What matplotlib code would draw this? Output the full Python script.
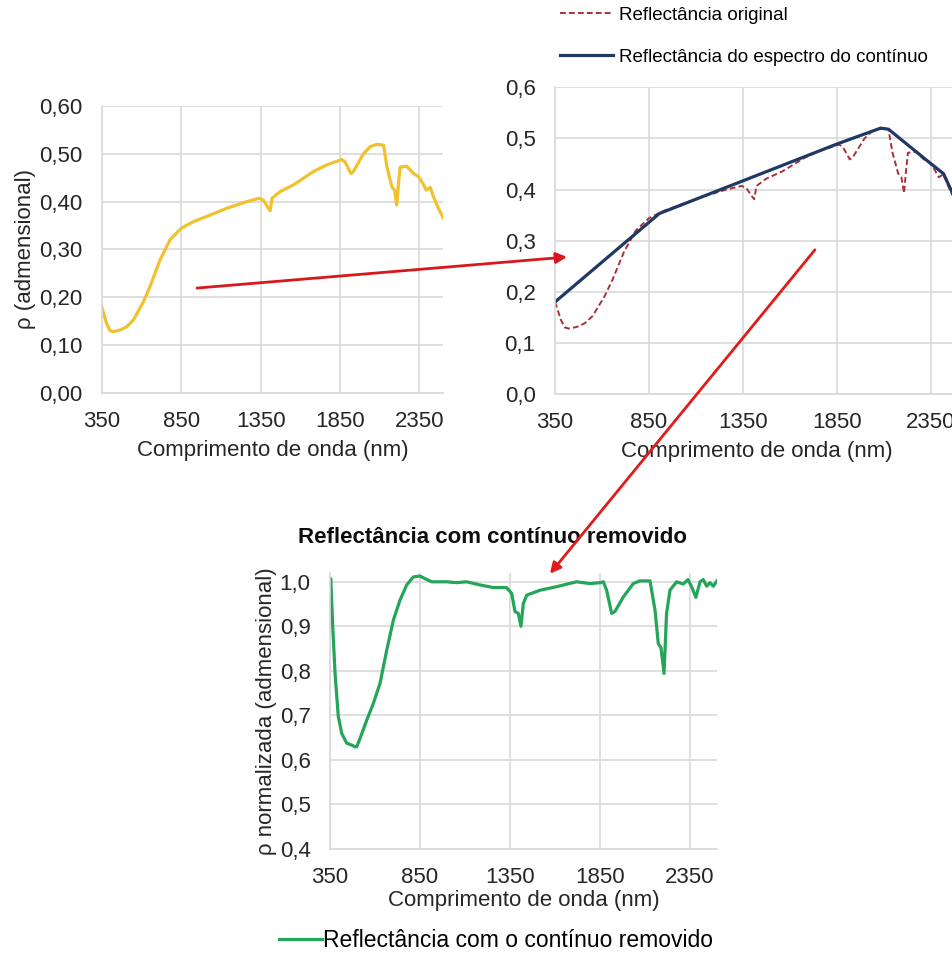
import matplotlib
matplotlib.use('Agg')
import matplotlib.pyplot as plt
from matplotlib.ticker import FuncFormatter
from matplotlib.patches import ConnectionPatch

plt.rcParams['font.family'] = ['Liberation Sans', 'DejaVu Sans']

wl = [350, 381, 402, 423, 465, 507, 549, 612, 654, 717, 780, 850, 927, 1032, 1137,
      1263, 1343, 1368, 1393, 1410, 1422, 1473, 1557, 1683, 1767, 1861, 1882, 1918,
      1934, 1997, 2040, 2082, 2124, 2145, 2176, 2193, 2207, 2218, 2228, 2270, 2312,
      2344, 2371, 2392, 2417, 2438, 2469, 2500]
refl = [0.180, 0.145, 0.130, 0.128, 0.131, 0.138, 0.152, 0.190, 0.222, 0.278, 0.320,
        0.344, 0.358, 0.372, 0.386, 0.400, 0.407, 0.403, 0.389, 0.381, 0.407, 0.421,
        0.435, 0.463, 0.477, 0.488, 0.483, 0.459, 0.463, 0.500, 0.515, 0.520, 0.518,
        0.473, 0.431, 0.424, 0.393, 0.438, 0.472, 0.474, 0.459, 0.452, 0.438, 0.424,
        0.430, 0.410, 0.386, 0.365]

# continuum (hull) points
hull_wl = [350, 905, 1850, 2082, 2124, 2345, 2417, 2500]
hull = [0.180, 0.353, 0.489, 0.520, 0.518, 0.452, 0.431, 0.365]

# continuum removed spectrum
cr_wl = [350, 354, 365, 378, 396, 415, 443, 470, 489, 498, 517, 554, 591, 628, 665,
         702, 739, 776, 813, 850, 878, 915, 998, 1054, 1109, 1183, 1257, 1331, 1359,
         1378, 1396, 1411, 1424, 1443, 1517, 1609, 1720, 1794, 1850, 1869, 1887, 1915,
         1933, 1980, 2035, 2072, 2128, 2156, 2174, 2189, 2206, 2220, 2239, 2276, 2313,
         2339, 2359, 2383, 2406, 2424, 2443, 2461, 2480, 2500]
cr = [1.000, 1.007, 0.899, 0.794, 0.697, 0.659, 0.637, 0.633, 0.629, 0.629, 0.648,
      0.689, 0.727, 0.772, 0.846, 0.914, 0.959, 0.993, 1.011, 1.013, 1.007, 1.000,
      1.000, 0.998, 1.000, 0.993, 0.987, 0.987, 0.974, 0.933, 0.929, 0.900, 0.951,
      0.970, 0.981, 0.989, 1.000, 0.996, 0.998, 1.000, 0.981, 0.929, 0.933, 0.966,
      0.996, 1.002, 1.002, 0.936, 0.861, 0.852, 0.794, 0.929, 0.981, 1.000, 0.995,
      1.005, 0.989, 0.965, 1.000, 1.005, 0.990, 0.998, 0.990, 1.002]

xticks = [350, 850, 1350, 1850, 2350]
grid_c = '#D9D9D9'
fs = 16


def comma(decimals):
    return FuncFormatter(lambda v, p: f"{v:.{decimals}f}".replace('.', ','))


def style(ax, ymin, ymax, ystep, dec, xlabelpad=6):
    ax.set_xlim(350, 2500)
    ax.set_ylim(ymin, ymax)
    ax.set_xticks(xticks)
    n = int(round((min(ymax, 1.0) - ymin) / ystep))
    ax.set_yticks([ymin + i * ystep for i in range(n + 1)])
    ax.yaxis.set_major_formatter(comma(dec))
    ax.grid(True, color=grid_c, lw=1.2)
    ax.set_axisbelow(True)
    for s in ['top', 'right']:
        ax.spines[s].set_visible(False)
    for s in ['left', 'bottom']:
        ax.spines[s].set_color(grid_c)
        ax.spines[s].set_linewidth(1.2)
    ax.tick_params(length=0, labelsize=fs, colors='#262626')
    ax.tick_params(axis='y', pad=14)
    ax.tick_params(axis='x', pad=13)
    ax.set_xlabel('Comprimento de onda (nm)', fontsize=fs, labelpad=xlabelpad,
                  color='#262626')


fig = plt.figure(figsize=(9.53, 9.72), dpi=100)

ax1 = fig.add_axes([0.1067, 0.596, 0.3585, 0.2949])
ax1.plot(wl, refl, color='#F2C12E', lw=2.3)
style(ax1, 0.0, 0.6, 0.1, 2)
ax1.set_ylabel('ρ (admensional)', fontsize=fs, labelpad=2, color='#262626')

ax2 = fig.add_axes([0.5824, 0.5947, 0.424, 0.3155])
l_orig, = ax2.plot(wl, refl, color='#A8323A', lw=1.4, ls=(0, (3, 1.6)),
                   label='Reflectância original')
l_hull, = ax2.plot(hull_wl, hull, color='#1F3864', lw=2.3,
                   label='Reflectância do espectro do contínuo')
style(ax2, 0.0, 0.6, 0.1, 1)
fig.legend(handles=[l_orig, l_hull], loc='upper left', bbox_to_anchor=(0.588, 0.993),
           frameon=False, fontsize=13.5, handlelength=2.8, handletextpad=0.35,
           labelspacing=1.33, borderpad=0, borderaxespad=0)

ax3 = fig.add_axes([0.3463, 0.1269, 0.406, 0.2837])
l_cr, = ax3.plot(cr_wl, cr, color='#23A55A', lw=2.3,
                 label='Reflectância com o contínuo removido')
style(ax3, 0.4, 1.02, 0.1, 1, xlabelpad=2)
ax3.set_ylabel('ρ normalizada (admensional)', fontsize=fs, labelpad=2, color='#262626')
fig.text(0.5168, 0.4475, 'Reflectância com contínuo removido', ha='center', va='center',
         fontsize=16, fontweight='bold', color='#0D0D0D')
fig.legend(handles=[l_cr], loc='upper left', bbox_to_anchor=(0.293, 0.044),
           frameon=False, fontsize=16.5, handlelength=1.85, handletextpad=0.05,
           borderpad=0, borderaxespad=0)

# red arrows linking the panels
arr1 = ConnectionPatch(xyA=(950, 0.219), coordsA=ax1.transData,
                       xyB=(414, 0.268), coordsB=ax2.transData,
                       arrowstyle='-|>', color='#D8181C', lw=2, mutation_scale=16)
arr2 = ConnectionPatch(xyA=(1733, 0.282), coordsA=ax2.transData,
                       xyB=(1572, 1.018), coordsB=ax3.transData,
                       arrowstyle='-|>', color='#E01B1B', lw=2, mutation_scale=16)
for a in (arr1, arr2):
    a.set_zorder(10)
    fig.add_artist(a)

fig.savefig('out.png', dpi=100)
